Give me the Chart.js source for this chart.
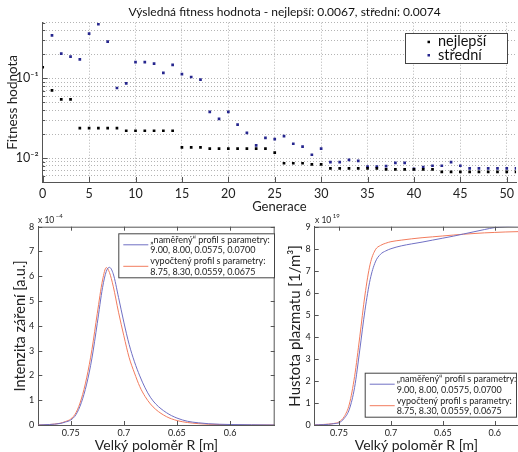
<!DOCTYPE html>
<html>
<head>
<meta charset="utf-8">
<script src="https://cdn.jsdelivr.net/npm/chart.js@4.4.0/dist/chart.umd.min.js"></script>
<style>
  body { margin: 0; width: 518px; height: 452px; overflow: hidden; background: #fff; position: relative; }
  canvas { position: absolute; }
</style>
</head>
<body>
<canvas id="fitness" width="518" height="215" style="left:0;top:0"></canvas>
<canvas id="intenzita" width="290" height="245" style="left:0;top:210px"></canvas>
<canvas id="hustota" width="256" height="245" style="left:262px;top:210px"></canvas>
<script>
// horni graf - vysledna fitness hodnota po generacich
var generace = [0,1,2,3,4,5,6,7,8,9,10,11,12,13,14,15,16,17,18,19,20,21,22,23,24,25,
                26,27,28,29,30,31,32,33,34,35,36,37,38,39,40,41,42,43,44,45,46,47,48,49,50,51];
var nejlepsi = [0.138,0.0708,0.0546,0.0546,0.0237,0.0237,0.0237,0.0237,0.0237,0.022,0.022,0.022,0.022,0.022,0.022,
                0.0136,0.0136,0.0136,0.0131,0.0131,0.0131,0.0131,0.0131,0.0131,0.0131,0.0117,
                0.0086,0.0086,0.0086,0.0083,0.0083,0.0074,0.0074,0.0074,0.0074,0.0074,0.0074,
                0.0072,0.0072,0.0072,0.0072,0.0072,0.0072,0.0067,0.0067,0.0067,0.0067,0.0067,0.0067,0.0067,0.0067,0.0067];
var stredni = [null,0.347,0.204,0.188,0.173,0.365,0.478,0.29,0.0757,0.0866,0.16,0.16,0.153,0.117,0.148,
               0.113,0.104,0.0962,0.0379,0.031,0.0379,0.0263,0.0207,0.0144,0.0179,0.0173,
               0.0188,0.0151,0.0139,0.011,0.0131,0.0089,0.0089,0.0095,0.0092,0.0078,0.0078,
               0.0079,0.0087,0.0087,0.0073,0.0077,0.008,0.008,0.0089,0.008,0.0074,0.0074,0.0074,0.0074,0.0074,0.0074];
var generaceTicks = [0,5,10,15,20,25,30,35,40,45,50];

// spodni grafy - profily
var polomerI = [0.7805,0.77,0.76,0.755,0.75,0.745,0.74,0.735,0.73,0.725,0.72,0.7165,0.7135,0.71,0.705,
                0.70,0.695,0.69,0.685,0.68,0.675,0.67,0.66,0.65,0.64,0.63,0.62,0.60,0.58,0.558];
var intenzitaNamereny = [0,0.02,0.06,0.12,0.2,0.42,0.9,1.65,2.7,4.1,5.55,6.2,6.36,6.1,5.15,
                         4.15,3.25,2.55,1.98,1.5,1.12,0.85,0.5,0.28,0.15,0.09,0.05,0.02,0.01,0];
var intenzitaVypocteny = [0,0.02,0.07,0.14,0.24,0.5,1.05,1.9,3.05,4.5,5.85,6.35,6.15,5.6,4.55,
                          3.6,2.72,2.1,1.55,1.15,0.85,0.63,0.34,0.18,0.1,0.055,0.03,0.01,0,0];
var polomerH = [0.775,0.77,0.76,0.755,0.75,0.745,0.74,0.735,0.73,0.725,0.72,0.715,0.71,0.705,
                0.70,0.69,0.68,0.67,0.66,0.65,0.64,0.63,0.62,0.61,0.60,0.59,0.575];
var hustotaNamereny = [0,0.01,0.03,0.06,0.1,0.3,0.72,1.7,3.4,5.2,6.6,7.4,7.75,7.9,
                       8.0,8.13,8.22,8.3,8.39,8.48,8.57,8.67,8.77,8.87,8.96,9.0,9.05];
var hustotaVypocteny = [0,0.01,0.04,0.07,0.14,0.38,0.95,2.2,4.0,5.9,7.3,7.95,8.15,8.25,
                        8.32,8.39,8.45,8.5,8.54,8.58,8.62,8.66,8.69,8.72,8.74,8.76,8.78];
var polomerTicks = [0.75, 0.7, 0.65, 0.6];
var polomerLabels = ['0.75', '0.7', '0.65', '0.6'];
var legendaProfil = [
  ['\u201Enaměřený\u201C profil s parametry:', '9.00, 8.00, 0.0575, 0.0700'],
  ['vypočtený profil s parametry:', '8.75, 8.30, 0.0559, 0.0675']
];

var modra = '#7070c4', cervena = '#f27c5e', osa = '#555';
Chart.defaults.font.family = 'Lato, "DejaVu Sans", sans-serif';
Chart.defaults.color = '#222';

function body(xs, ys) {
  return xs.map(function (x, i) { return { x: x, y: ys[i] }; });
}

// MATLAB ma znacky os smerem dovnitr
function znacky(chart, kde) {
  var ctx = chart.ctx, a = chart.chartArea, sx = chart.scales.x, sy = chart.scales.y;
  ctx.save();
  ctx.strokeStyle = osa;
  ctx.lineWidth = 1;
  ctx.beginPath();
  sx.ticks.forEach(function (t) {
    var p = Math.round(sx.getPixelForValue(t.value)) + 0.5;
    if (kde.bottom) { ctx.moveTo(p, a.bottom); ctx.lineTo(p, a.bottom - kde.len); }
    if (kde.top) { ctx.moveTo(p, a.top); ctx.lineTo(p, a.top + kde.len); }
  });
  sy.ticks.forEach(function (t) {
    var p = Math.round(sy.getPixelForValue(t.value)) + 0.5;
    var d = kde.ylen ? kde.ylen(t.value) : kde.len;
    if (kde.left) { ctx.moveTo(a.left, p); ctx.lineTo(a.left + d, p); }
    if (kde.right) { ctx.moveTo(a.right, p); ctx.lineTo(a.right - d, p); }
  });
  // horni a prava hrana ramecku
  if (kde.top) { ctx.moveTo(a.left, a.top + 0.5); ctx.lineTo(a.right, a.top + 0.5); }
  if (kde.right) { ctx.moveTo(a.right - 0.5, a.top); ctx.lineTo(a.right - 0.5, a.bottom); }
  ctx.stroke();
  ctx.restore();
}

function nasobitel(chart, x, y, exp) {
  var ctx = chart.ctx;
  ctx.save();
  ctx.fillStyle = '#222';
  ctx.textBaseline = 'middle';
  ctx.font = '8.5px Lato';
  ctx.fillText('x 10', x, y);
  var w = ctx.measureText('x 10').width;
  ctx.font = '6px Lato';
  ctx.fillText(exp, x + w + 1.5, y - 4);
  ctx.restore();
}

function legendaKrivek(chart, b) {
  var ctx = chart.ctx;
  ctx.save();
  ctx.fillStyle = '#fff';
  ctx.fillRect(b.x, b.y, b.w, b.h);
  ctx.strokeStyle = '#444';
  ctx.lineWidth = 1;
  ctx.strokeRect(b.x + 0.5, b.y + 0.5, b.w, b.h);
  ctx.font = '9px Lato';
  ctx.textBaseline = 'middle';
  chart.data.datasets.forEach(function (ds, i) {
    var yc = b.y + 11.5 + i * 21.5;
    ctx.strokeStyle = ds.borderColor;
    ctx.beginPath();
    ctx.moveTo(b.x + 5, yc);
    ctx.lineTo(b.x + 30, yc);
    ctx.stroke();
    ctx.fillStyle = '#222';
    ctx.fillText(legendaProfil[i][0], b.x + 32, yc - 5);
    ctx.fillText(legendaProfil[i][1], b.x + 32, yc + 5.5);
  });
  ctx.restore();
}

var logTicks = [];
[3, 2, 1].forEach(function (k) {
  for (var m = 1; m <= 9; m++) {
    var v = m / Math.pow(10, k);
    if (v >= 0.005 - 1e-12 && v <= 0.5 + 1e-12) logTicks.push(v);
  }
});
function jeDekada(v) { return Math.abs(v - 0.1) < 1e-12 || Math.abs(v - 0.01) < 1e-12; }

new Chart(document.getElementById('fitness'), {
  type: 'scatter',
  data: {
    datasets: [
      { label: 'nejlepší', data: body(generace, nejlepsi), pointStyle: 'rect', pointRadius: 1.9,
        pointBorderWidth: 0, pointBackgroundColor: '#000' },
      { label: 'střední', data: body(generace, stredni), pointStyle: 'rect', pointRadius: 1.9,
        pointBorderWidth: 0, pointBackgroundColor: '#26268e' }
    ]
  },
  options: {
    responsive: false,
    animation: false,
    layout: { autoPadding: false, padding: { top: 22.7, left: 0, right: 0, bottom: 0 } },
    plugins: { legend: { display: false }, tooltip: { enabled: false } },
    scales: {
      x: {
        type: 'linear', min: 0, max: 51,
        afterBuildTicks: function (s) { s.ticks = generaceTicks.map(function (v) { return { value: v }; }); },
        afterFit: function (s) { s.height = 33; },
        grid: { color: '#b4b4b4', drawTicks: false },
        border: { color: osa, dash: [1, 2] },
        ticks: { font: { size: 12.5 }, padding: 4 },
        title: { display: true, text: 'Generace', font: { size: 13 }, padding: { top: 0, bottom: 0 } }
      },
      y: {
        type: 'logarithmic', min: 0.005, max: 0.5,
        afterBuildTicks: function (s) { s.ticks = logTicks.map(function (v) { return { value: v }; }); },
        afterFit: function (s) { s.width = 42.7; },
        grid: { color: '#b4b4b4', drawTicks: false },
        border: { color: osa, dash: [1, 2] },
        ticks: {
          autoSkip: false, font: { size: 12.5 }, padding: 4,
          callback: function (v) {
            if (Math.abs(v - 0.1) < 1e-12) return '10⁻¹';
            if (Math.abs(v - 0.01) < 1e-12) return '10⁻²';
            return '';
          }
        },
        title: { display: true, text: 'Fitness hodnota', font: { size: 13.5 }, padding: { top: 5, bottom: 0 } }
      }
    }
  },
  plugins: [{
    id: 'fitnessDecor',
    afterDraw: function (chart) {
      var ctx = chart.ctx;
      znacky(chart, { bottom: true, left: true, len: 5, ylen: function (v) { return jeDekada(v) ? 5 : 2.5; } });
      ctx.save();
      ctx.fillStyle = '#111';
      ctx.font = '12px Lato';
      ctx.textAlign = 'center';
      ctx.textBaseline = 'middle';
      ctx.fillText('Výsledná fitness hodnota - nejlepší: 0.0067, střední: 0.0074', 284.5, 12);
      // legenda
      ctx.fillStyle = '#fff';
      ctx.fillRect(405, 33, 102, 30);
      ctx.strokeStyle = '#444';
      ctx.lineWidth = 1;
      ctx.strokeRect(405.5, 33.5, 102, 30);
      ctx.textAlign = 'left';
      ctx.font = '14.5px Lato';
      chart.data.datasets.forEach(function (ds, i) {
        var yc = 41.7 + i * 13.3;
        ctx.fillStyle = ds.pointBackgroundColor;
        ctx.fillRect(427.5, yc - 1, 2.5, 2.5);
        ctx.fillStyle = '#111';
        ctx.fillText(ds.label, 438, yc);
      });
      ctx.restore();
    }
  }]
});

function profilOptions(xmin, xmax, ymax, yWidth, padRight, yTitle, yTitleSize, yTitlePad) {
  return {
    responsive: false,
    animation: false,
    layout: { autoPadding: false, padding: { top: 16.7, left: 0, right: padRight, bottom: 0 } },
    plugins: { legend: { display: false }, tooltip: { enabled: false } },
    elements: { point: { radius: 0 }, line: { borderWidth: 1, cubicInterpolationMode: 'monotone' } },
    scales: {
      x: {
        type: 'linear', reverse: true, min: xmin, max: xmax,
        afterBuildTicks: function (s) { s.ticks = polomerTicks.map(function (v) { return { value: v }; }); },
        afterFit: function (s) { s.height = 30; },
        grid: { display: false, drawTicks: false },
        border: { color: osa },
        ticks: { font: { size: 9 }, padding: 3, callback: function (v, i) { return polomerLabels[i]; } },
        title: { display: true, text: 'Velký poloměr R [m]', font: { size: 14 }, padding: { top: 0, bottom: 1.5 } }
      },
      y: {
        min: 0, max: ymax,
        afterFit: function (s) { s.width = yWidth; },
        grid: { display: false, drawTicks: false },
        border: { color: osa },
        ticks: { stepSize: 1, font: { size: 9 }, padding: 4 },
        title: { display: true, text: yTitle, font: { size: yTitleSize }, padding: { top: yTitlePad, bottom: 0 } }
      }
    }
  };
}

new Chart(document.getElementById('intenzita'), {
  type: 'line',
  data: {
    datasets: [
      { label: legendaProfil[0].join(' '), data: body(polomerI, intenzitaNamereny), borderColor: modra },
      { label: legendaProfil[1].join(' '), data: body(polomerI, intenzitaVypocteny), borderColor: cervena }
    ]
  },
  options: profilOptions(0.558, 0.7805, 8, 38.3, 15.3, 'Intenzita záření [a.u.]', 14.5, 11.3),
  plugins: [{
    id: 'intenzitaDecor',
    afterDraw: function (chart) {
      znacky(chart, { bottom: true, top: true, left: true, right: true, len: 4 });
      nasobitel(chart, 38, 10, '−4');
      legendaKrivek(chart, { x: 118.3, y: 23.3, w: 155.7, h: 44 });
    }
  }]
});

new Chart(document.getElementById('hustota'), {
  type: 'line',
  data: {
    datasets: [
      { label: legendaProfil[0].join(' '), data: body(polomerH, hustotaNamereny), borderColor: modra },
      { label: legendaProfil[1].join(' '), data: body(polomerH, hustotaVypocteny), borderColor: cervena }
    ]
  },
  options: profilOptions(0.5776, 0.7734, 9, 52.7, 0, 'Hustota plazmatu [1/m³]', 15, 23.7),
  plugins: [{
    id: 'hustotaDecor',
    afterDraw: function (chart) {
      znacky(chart, { bottom: true, top: true, left: true, len: 4 });
      nasobitel(chart, 53, 10, '19');
      legendaKrivek(chart, { x: 102.7, y: 162.7, w: 151.3, h: 44 });
    }
  }]
});
</script>
</body>
</html>
